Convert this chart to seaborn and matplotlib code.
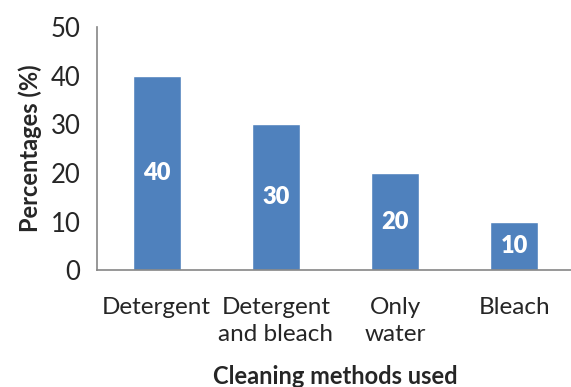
import matplotlib
matplotlib.use("Agg")
import matplotlib.pyplot as plt
import seaborn as sns
import pandas as pd

categories = ["Detergent", "Detergent\nand bleach", "Only\nwater", "Bleach"]
percentages = [40, 30, 20, 10]
y_ticks = [0, 10, 20, 30, 40, 50]

sns.set_style("white")
plt.rcParams["font.family"] = ["Lato", "DejaVu Sans"]

df = pd.DataFrame({"method": categories, "pct": percentages})

fig = plt.figure(figsize=(5.71, 3.87), dpi=100)
ax = fig.add_axes([0.170, 0.302, 0.835, 0.628])

sns.barplot(data=df, x="method", y="pct", color="#4F81BD", saturation=1,
            width=0.4, ax=ax)

ax.set_ylim(0, 50)
ax.set_xlim(-0.5, len(categories) - 0.5)
ax.set_yticks(y_ticks)
ax.set_yticklabels([str(t) for t in y_ticks], fontsize=18.5)

# category labels sit under the bars, tick marks sit between categories
ax.set_xticks([i - 0.5 for i in range(len(categories))])
ax.set_xticklabels([])
ax.set_xticks(range(len(categories)), minor=True)
ax.set_xticklabels(categories, minor=True, fontsize=17.5, linespacing=1.4,
                   va="top")
ax.tick_params(axis="x", which="minor", length=0, pad=19)
ax.tick_params(axis="x", which="major", length=7, width=1.2, color="#868686",
               direction="out")
ax.tick_params(axis="y", length=7, width=1.2, color="#868686",
               direction="out", pad=5)

for side in ("top", "right"):
    ax.spines[side].set_visible(False)
for side in ("left", "bottom"):
    ax.spines[side].set_color("#868686")
    ax.spines[side].set_linewidth(1.2)

for patch, val in zip(ax.patches, percentages):
    ax.text(patch.get_x() + patch.get_width() / 2, val / 2, str(val),
            ha="center", va="center", color="white", fontsize=17,
            fontweight="heavy")

ax.set_ylabel("Percentages (%)", fontsize=17, fontweight="bold", labelpad=6)
ax.set_xlabel("Cleaning methods used", fontsize=17, fontweight="bold",
              labelpad=14)

fig.savefig("out.png", dpi=100)
